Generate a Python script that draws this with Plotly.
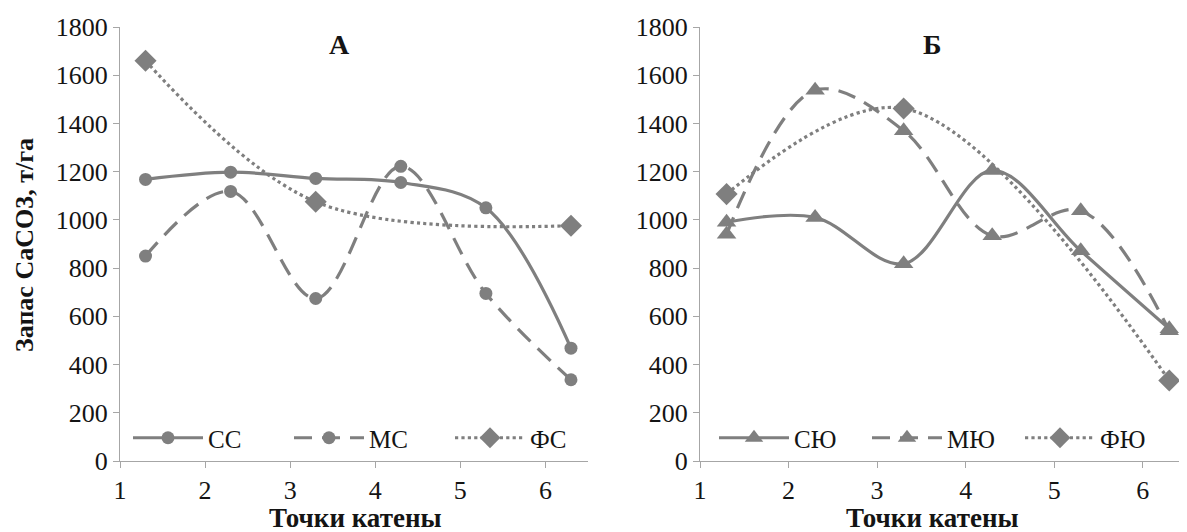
import plotly.graph_objects as go

x_points = [1.3, 2.3, 3.3, 4.3, 5.3, 6.3]
tick_vals = [1, 2, 3, 4, 5, 6]
y_ticks = [0, 200, 400, 600, 800, 1000, 1200, 1400, 1600, 1800]

# Panel A
cc = [1168, 1198, 1172, 1155, 1050, 468]
mc = [850, 1118, 674, 1222, 695, 337]
fc = [1660, None, 1075, None, None, 976]
# Panel Б
syu = [990, 1010, 818, 1205, 872, 548]
myu = [940, 1538, 1370, 934, 1038, 540]
fyu = [1107, None, 1462, None, None, 334]

GRAY = "#7f7f7f"
SERIF = "Liberation Serif, Times New Roman, serif"
TXT = "#141414"

fig = go.Figure()

def add(y, name, dash, symbol, msize, xa, ya, legend):
    fig.add_trace(go.Scatter(
        x=x_points, y=y, name=name, mode="lines+markers",
        connectgaps=True,
        line=dict(color=GRAY, width=3.2, dash=dash, shape="spline", smoothing=1.0),
        marker=dict(color=GRAY, symbol=symbol, size=msize),
        xaxis=xa, yaxis=ya, legend=legend,
    ))

add(cc, "СС", "solid", "circle", 13, "x", "y", "legend")
add(mc, "МС", "18px,10px", "circle", 13, "x", "y", "legend")
add(fc, "ФС", "dot", "diamond", 17, "x", "y", "legend")
add(syu, "СЮ", "solid", "triangle-up", 17, "x2", "y2", "legend2")
add(myu, "МЮ", "18px,10px", "triangle-up", 17, "x2", "y2", "legend2")
add(fyu, "ФЮ", "dot", "diamond", 17, "x2", "y2", "legend2")

# page body has an 8px margin; screen coords -> paper fractions
OFF = 8
W, H = 1187 - OFF, 532 - OFF

def px(X):
    return (X - OFF) / W

def py(Y):
    return 1 - (Y - OFF) / H

ydom = [py(461), py(27)]
xdom1 = [px(120), px(588)]
xdom2 = [px(700), 1.0]

axis_common = dict(
    showgrid=False, zeroline=False, showline=True, linecolor="#a6a6a6", linewidth=1,
    ticks="outside", tickcolor="#a6a6a6", ticklen=6, automargin=False,
    tickfont=dict(family=SERIF, size=26, color=TXT),
)

leg_common = dict(orientation="h", xanchor="left",
                  y=py(438), yanchor="middle",
                  bgcolor="rgba(0,0,0,0)", font=dict(family=SERIF, size=25, color=TXT),
                  itemwidth=70, tracegroupgap=0)

def ann(text, x, y, size, angle=0):
    return dict(text=text, x=x, y=y, xref="paper", yref="paper", showarrow=False,
                textangle=angle, xanchor="center", yanchor="middle",
                font=dict(family=SERIF, size=size, color=TXT))

fig.update_layout(
    width=W, height=H,
    margin=dict(l=0, r=0, t=0, b=0),
    paper_bgcolor="white", plot_bgcolor="white",
    xaxis=dict(domain=xdom1, range=[1, 6.5], tickvals=tick_vals, anchor="y", **axis_common),
    yaxis=dict(domain=ydom, range=[0, 1800], tickvals=y_ticks, anchor="x", **axis_common),
    xaxis2=dict(domain=xdom2, range=[1, 6.5], tickvals=tick_vals, anchor="y2", **axis_common),
    yaxis2=dict(domain=ydom, range=[0, 1800], tickvals=y_ticks, anchor="x2", **axis_common),
    legend=dict(x=px(128), entrywidth=76, **leg_common),
    legend2=dict(x=px(714), entrywidth=68, **leg_common),
    annotations=[
        ann("<b>А</b>", px(339), py(45), 28),
        ann("<b>Б</b>", px(932), py(45), 28),
        ann("<b>Точки катены</b>", px(356), py(518), 27),
        ann("<b>Точки катены</b>", px(932), py(518), 27),
        ann("<b>Запас СаСО3, т/га</b>", px(24), py(245), 26, -90),
    ],
)

fig.write_html("out.html")
